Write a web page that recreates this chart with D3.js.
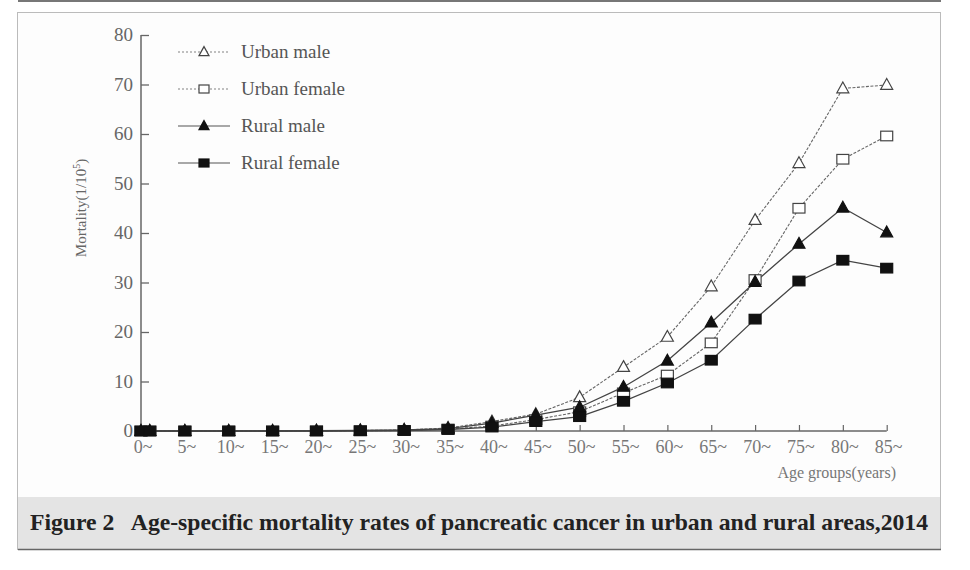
<!DOCTYPE html>
<html><head><meta charset="utf-8">
<script src="https://cdn.jsdelivr.net/npm/d3@7/dist/d3.min.js"></script>
<style>
html,body{margin:0;padding:0;background:#fff;}
svg{display:block;}
</style></head>
<body>
<svg id="c" width="970" height="570"></svg>
<script>
// ---- data ----
const ages = [0, 1, 5, 10, 15, 20, 25, 30, 35, 40, 45, 50, 55, 60, 65, 70, 75, 80, 85];
const tickAges = [0, 5, 10, 15, 20, 25, 30, 35, 40, 45, 50, 55, 60, 65, 70, 75, 80, 85];
const tickLabels = ["0~","5~","10~","15~","20~","25~","30~","35~","40~","45~","50~","55~","60~","65~","70~","75~","80~","85~"];
const yTicks = [0, 10, 20, 30, 40, 50, 60, 70, 80];
const urbanMale   = [0, 0, 0, 0, 0, 0.05, 0.1, 0.2, 0.6, 1.9, 3.4, 6.8, 12.9, 19.0, 29.2, 42.6, 54.1, 69.2, 69.9];
const urbanFemale = [0, 0, 0, 0, 0, 0.03, 0.05, 0.1, 0.4, 1.0, 2.3, 3.9, 7.7, 11.3, 17.8, 30.6, 45.0, 54.9, 59.6];
const ruralMale   = [0, 0, 0, 0, 0, 0.05, 0.1, 0.2, 0.5, 1.6, 3.2, 4.8, 8.9, 14.2, 21.9, 30.1, 37.8, 45.1, 40.1];
const ruralFemale = [0, 0, 0, 0, 0, 0, 0.05, 0.1, 0.3, 0.8, 1.9, 2.9, 6.0, 9.7, 14.3, 22.6, 30.3, 34.5, 32.9];
const seriesNames = ["Urban male", "Urban female", "Rural male", "Rural female"];
const caption = "Figure 2   Age-specific mortality rates of pancreatic cancer in urban and rural areas,2014";

const series = [
  {name: seriesNames[0], values: urbanMale,   marker: "tri", fill: "#fff", dash: "3,1.5", stroke: "#666"},
  {name: seriesNames[1], values: urbanFemale, marker: "sq",  fill: "#fff", dash: "3,1.5", stroke: "#666"},
  {name: seriesNames[2], values: ruralMale,   marker: "tri", fill: "#111", dash: null, stroke: "#444"},
  {name: seriesNames[3], values: ruralFemale, marker: "sq",  fill: "#111", dash: null, stroke: "#444"}
];

const svg = d3.select("#c");
const serif = "'Liberation Serif','DejaVu Serif',serif";

// frame
svg.append("line").attr("x1", 18).attr("x2", 941).attr("y1", 1).attr("y2", 1)
  .attr("stroke", "#777").attr("stroke-width", 2);
svg.append("rect").attr("x", 17.5).attr("y", 12.5).attr("width", 923).attr("height", 537)
  .attr("fill", "#fdfdfd").attr("stroke", "#bbb").attr("stroke-width", 1);
svg.append("rect").attr("x", 18).attr("y", 497).attr("width", 922).attr("height", 52)
  .attr("fill", "#e4e4e4");
svg.append("line").attr("x1", 18).attr("x2", 941).attr("y1", 549.5).attr("y2", 549.5)
  .attr("stroke", "#666").attr("stroke-width", 1.5);
svg.append("text").attr("x", 30).attr("y", 530)
  .attr("font-family", serif).attr("font-weight", "bold").attr("font-size", 23)
  .attr("fill", "#222").attr("xml:space", "preserve")
  .attr("textLength", 898).attr("lengthAdjust", "spacingAndGlyphs")
  .text(caption);

// scales
const x = d3.scaleLinear().domain([0, 85]).range([141, 886.7]);
const y = d3.scaleLinear().domain([0, 80]).range([431, 35]);

const axisColor = "#666";
// y axis
const yAxis = svg.append("g").attr("transform", "translate(141,0)")
  .call(d3.axisRight(y).tickValues(yTicks).tickSize(8).tickFormat(""));
yAxis.select(".domain").attr("stroke", axisColor).attr("stroke-width", 1.5).attr("d", `M0,${y(80)}V${y(0)}`);
yAxis.selectAll(".tick line").attr("stroke", axisColor).attr("stroke-width", 1.3);
svg.append("g").selectAll("text").data(yTicks).join("text")
  .attr("x", 133).attr("y", d => y(d) + 6).attr("text-anchor", "end")
  .attr("font-family", serif).attr("font-size", 19).attr("fill", "#666")
  .text(d => d);

// x axis
const xAxis = svg.append("g").attr("transform", `translate(0,${y(0)})`)
  .call(d3.axisTop(x).tickValues(tickAges).tickSize(6).tickFormat(""));
xAxis.select(".domain").attr("stroke", axisColor).attr("stroke-width", 1.3).attr("d", `M${x(0)},0H${x(85)}`);
xAxis.selectAll(".tick line").attr("stroke", axisColor).attr("stroke-width", 1.2);
svg.append("g").selectAll("text").data(tickAges).join("text")
  .attr("x", d => x(d) + 2).attr("y", 453).attr("text-anchor", "middle")
  .attr("font-family", serif).attr("font-size", 18).attr("fill", "#777")
  .text((d, i) => tickLabels[i]);

// axis titles
svg.append("text").attr("x", 896).attr("y", 478).attr("text-anchor", "end")
  .attr("font-family", serif).attr("font-size", 16).attr("fill", "#777")
  .text("Age groups(years)");
svg.append("text").attr("transform", "translate(86,208) rotate(-90)").attr("text-anchor", "middle")
  .attr("font-family", serif).attr("font-size", 15).attr("fill", "#666")
  .html("Mortality(1/10<tspan dy='-6' font-size='10'>5</tspan><tspan dy='6'>)</tspan>");

// markers
function drawMarker(g, type, fill, cx, cy, s) {
  if (type === "tri") {
    const h = s * 0.9;
    g.append("path").attr("d", `M${cx},${cy - h * 0.6}L${cx + s / 2},${cy + h * 0.4}L${cx - s / 2},${cy + h * 0.4}Z`)
      .attr("fill", fill).attr("stroke", fill === "#fff" ? "#444" : "#111").attr("stroke-width", 1.2);
  } else {
    const w = s, hh = s * 0.8;
    g.append("rect").attr("x", cx - w / 2).attr("y", cy - hh / 2).attr("width", w).attr("height", hh)
      .attr("fill", fill).attr("stroke", fill === "#fff" ? "#444" : "#111").attr("stroke-width", 1.2);
  }
}

const line = d3.line().x((d, i) => x(ages[i])).y(d => y(d));
const plot = svg.append("g");
series.forEach(s => {
  plot.append("path").attr("d", line(s.values)).attr("fill", "none")
    .attr("stroke", s.stroke).attr("stroke-width", s.dash ? 1.1 : 1.3)
    .attr("stroke-dasharray", s.dash);
});
series.forEach(s => {
  s.values.forEach((v, i) => drawMarker(plot, s.marker, s.fill, x(ages[i]), y(v), 12));
});

// legend
const legY = [52, 89, 126, 163];
series.forEach((s, i) => {
  const g = svg.append("g");
  g.append("line").attr("x1", 178).attr("x2", 230).attr("y1", legY[i]).attr("y2", legY[i])
    .attr("stroke", s.dash ? "#aaa" : "#555").attr("stroke-width", s.dash ? 1.3 : 1.2)
    .attr("stroke-dasharray", s.dash ? "2,2" : null);
  drawMarker(g, s.marker, s.fill, 204, legY[i], 10);
  g.append("text").attr("x", 241).attr("y", legY[i] + 6)
    .attr("font-family", serif).attr("font-size", 19).attr("fill", "#555")
    .text(s.name);
});
</script>
</body></html>
